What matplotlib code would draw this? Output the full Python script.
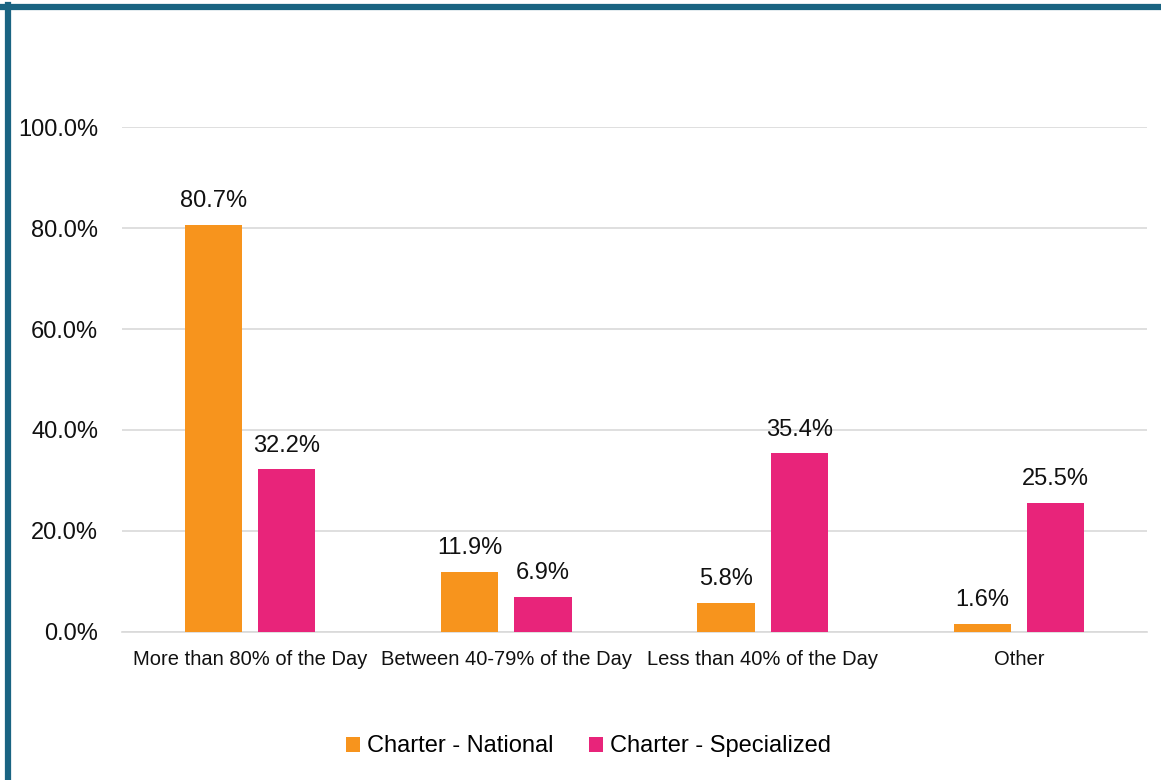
import matplotlib.pyplot as plt
import numpy as np

plt.rcParams['font.family'] = ['Liberation Sans', 'DejaVu Sans']

categories = ['More than 80% of the Day', 'Between 40-79% of the Day',
              'Less than 40% of the Day', 'Other']
national = [80.7, 11.9, 5.8, 1.6]
specialized = [32.2, 6.9, 35.4, 25.5]
series_names = ['Charter - National', 'Charter - Specialized']
colors = ['#F7941D', '#E8247A']

fig = plt.figure(figsize=(11.61, 7.80), dpi=100)
ax = fig.add_axes([0.105, 0.19, 0.883, 0.647])

x = np.arange(len(categories))
w = 0.223
gap = 0.0625
b1 = ax.bar(x - (w + gap) / 2, national, w, color=colors[0], label=series_names[0], zorder=3)
b2 = ax.bar(x + (w + gap) / 2, specialized, w, color=colors[1], label=series_names[1], zorder=3)

for bars, vals in [(b1, national), (b2, specialized)]:
    for r, v in zip(bars, vals):
        ax.text(r.get_x() + r.get_width() / 2, v + 2.5, f'{v:.1f}%',
                ha='center', va='bottom', fontsize=17, color='#111111')

ax.set_xlim(-0.5, 3.5)
ax.set_ylim(0, 100)
ax.set_yticks(np.arange(0, 101, 20))
ax.set_yticklabels([f'{t:.1f}%' for t in np.arange(0, 101, 20)])
ax.set_xticks(x)
ax.set_xticklabels(categories)
ax.tick_params(axis='y', labelsize=17, length=0, pad=17, colors='#111111')
ax.tick_params(axis='x', labelsize=14.5, length=0, pad=13, colors='#111111')
ax.grid(axis='y', color='#d9d9d9', linewidth=1.2, zorder=0)
for s in ['top', 'right', 'left']:
    ax.spines[s].set_visible(False)
ax.spines['bottom'].set_color('#d9d9d9')
ax.spines['bottom'].set_linewidth(1.2)

fig.legend(handles=[b1, b2], loc='center', bbox_to_anchor=(0.507, 0.043), ncol=2,
           frameon=False, fontsize=17, handlelength=0.6, handleheight=0.6,
           handletextpad=0.3, columnspacing=1.5)

# frame lines on top and left
fig.add_artist(plt.Line2D([0, 1], [0.991, 0.991], color='#1a6482', linewidth=4.5,
                          transform=fig.transFigure))
fig.add_artist(plt.Line2D([0.0065, 0.0065], [0, 0.994], color='#1a6482', linewidth=4.5,
                          transform=fig.transFigure))

fig.savefig('out.png', dpi=100)
